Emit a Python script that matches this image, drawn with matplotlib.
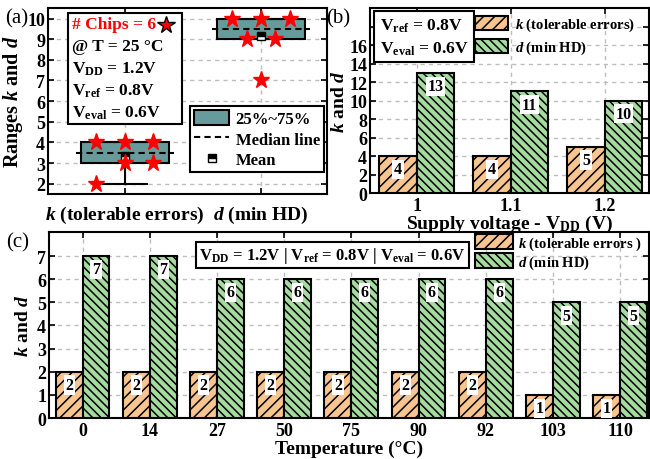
import numpy as np
import matplotlib
matplotlib.use("Agg")
import matplotlib.pyplot as plt
from matplotlib.patches import Patch, Rectangle
from matplotlib.lines import Line2D

plt.rcParams['font.family'] = ['Liberation Serif', 'DejaVu Serif']
plt.rcParams['font.weight'] = 'bold'
plt.rcParams['axes.labelweight'] = 'bold'
plt.rcParams['mathtext.fontset'] = 'custom'
plt.rcParams['mathtext.rm'] = 'Liberation Serif:bold'
plt.rcParams['mathtext.it'] = 'Liberation Serif:italic:bold'
plt.rcParams['mathtext.bf'] = 'Liberation Serif:bold'
plt.rcParams['hatch.linewidth'] = 1.1
plt.rcParams['axes.linewidth'] = 1.5

# (a) six chips at 25 C
k_chips = [4, 4, 4, 3, 3, 2]
d_chips = [10, 10, 10, 9, 9, 7]
# horizontal spread of the stars (layout only)
k_jit = [-0.21, 0, 0.21, 0, 0.21, -0.21]
d_jit = [-0.21, 0, 0.21, -0.105, 0.105, 0]

# (b) supply voltage sweep
vdd_labels = ['1', '1.1', '1.2']
k_vdd = [4, 4, 5]
d_vdd = [13, 11, 10]

# (c) temperature sweep
temp_labels = ['0', '14', '27', '50', '75', '90', '92', '103', '110']
k_temp = [2, 2, 2, 2, 2, 2, 2, 1, 1]
d_temp = [7, 7, 6, 6, 6, 6, 6, 5, 5]

orange = '#f8c490'
green = '#a6dba0'
teal = '#679b9b'
gridkw = dict(color='#bdbdbd', ls=(0, (3, 3)), lw=1.0)

fig = plt.figure(figsize=(6.5, 4.6), dpi=100)
axa = fig.add_axes([0.0738, 0.576, 0.4292, 0.404])
axb = fig.add_axes([0.569, 0.578, 0.4295, 0.402])
axc = fig.add_axes([0.0754, 0.089, 0.9231, 0.4045])

for ax in (axa, axb, axc):
    ax.tick_params(direction='in', length=4, width=1.2, labelsize=13,
                   right=True, top=True, pad=2)
    ax.set_axisbelow(True)


def tag(ax, s):
    ax.text(-0.155 if ax is not axc else -0.072, 1.0, s, transform=ax.transAxes,
            fontsize=15, fontweight='normal', va='top', ha='left')


# ---------- (a) ----------
ax = axa
pos = [1, 2]
bp = ax.boxplot([k_chips, d_chips], positions=pos, widths=0.65, patch_artist=True,
                showfliers=False, whis=1.5, capwidths=0.32,
                boxprops=dict(facecolor=teal, edgecolor='black', lw=1.5),
                whiskerprops=dict(color='black', lw=1.5),
                capprops=dict(color='black', lw=1.5),
                medianprops=dict(visible=False), zorder=2)
for p, data, jit in zip(pos, [k_chips, d_chips], [k_jit, d_jit]):
    ax.hlines(np.median(data), p - 0.36, p + 0.36, colors='black',
              linestyles=(0, (3, 2)), lw=1.5, zorder=4)
    ax.plot(p, np.mean(data), marker='s', ms=6, mfc='black', mec='black',
            fillstyle='top', markerfacecoloralt='white', zorder=5)
    ax.plot(np.array(jit) + p, data, ls='none', marker='*', ms=12.5,
            color='red', zorder=6)
ax.set_xlim(0.435, 2.485)
ax.set_ylim(1.5, 10.5)
ax.set_yticks(range(2, 11))
ax.set_xticks(pos)
ax.set_xticklabels([r'$\mathit{k}$ (tolerable errors)', r'$\mathit{d}$ (min HD)'],
                   fontsize=14)
ax.tick_params(axis='x', pad=7)
ax.set_ylabel(r'Ranges $\mathit{k}$ and $\mathit{d}$', fontsize=14.5, labelpad=2)
ax.grid(True, **gridkw)

ax.add_patch(Rectangle((0.072, 0.376), 0.408, 0.597, transform=ax.transAxes,
                       fc='white', ec='black', lw=1.5, zorder=7))
lines = ['# Chips = 6', '@ T = 25 \u00b0C', r'V$_{\mathrm{DD}}$ = 1.2V',
         r'V$_{\mathrm{ref}}$ = 0.8V', r'V$_{\mathrm{eval}}$ = 0.6V']
ys = [0.914, 0.796, 0.677, 0.559, 0.441]
for s, y in zip(lines, ys):
    ax.text(0.086, y, s, transform=ax.transAxes, fontsize=12.5, va='center',
            color='red' if s.startswith('#') else 'black', zorder=8)
ax.plot(0.423, 0.909, marker='*', ms=13, mfc='red', mec='black', mew=1,
        transform=ax.transAxes, zorder=8)

handles = [Patch(facecolor=teal, edgecolor='black', lw=1.5),
           Line2D([], [], color='black', ls=(0, (3, 2)), lw=1.5),
           Line2D([], [], ls='none', marker='s', ms=6, mfc='black', mec='black',
                  fillstyle='top', markerfacecoloralt='white')]
leg = ax.legend(handles, ['25%~75%', 'Median line', 'Mean'], loc='upper right',
                bbox_to_anchor=(0.99, 0.475), fontsize=12, frameon=True,
                fancybox=False, edgecolor='black', framealpha=1,
                handlelength=2.1, handleheight=1.0, borderpad=0.25,
                labelspacing=0.2, handletextpad=0.4, borderaxespad=0)
leg.get_frame().set_linewidth(1.5)
tag(ax, '(a)')


# ---------- bar panels ----------
def bars(ax, k, d):
    x = np.arange(len(k))
    bk = ax.bar(x, k, -0.4, align='edge', color=orange, edgecolor='black',
                lw=1.5, hatch='///', zorder=3)
    bd = ax.bar(x, d, 0.4, align='edge', color=green, edgecolor='black',
                lw=1.5, hatch='\\\\\\\\', zorder=3)
    for group, vals in ((bk, k), (bd, d)):
        for b, v in zip(group, vals):
            ax.annotate(str(v), (b.get_x() + b.get_width() / 2, v),
                        xytext=(0, -9.5), textcoords='offset points',
                        ha='center', va='center', fontsize=11.5, zorder=4,
                        bbox=dict(boxstyle='square,pad=0.1', fc='white', ec='none'))
    ax.set_xticks(x)
    ax.tick_params(axis='x', pad=3)
    ax.grid(True, **gridkw)
    return bk, bd


# (b)
ax = axb
bk, bd = bars(ax, k_vdd, d_vdd)
ax.set_xticklabels(vdd_labels)
ax.set_xlim(-0.5, 2.47)
ax.set_ylim(0, 20)
ax.set_yticks(range(0, 20, 2))
ax.set_yticklabels([str(v) if v <= 16 else '' for v in range(0, 20, 2)])
ax.set_xlabel(r'Supply voltage - V$_{\mathrm{DD}}$ (V)', fontsize=14, labelpad=-1)
ax.set_ylabel(r'$\mathit{k}$ and $\mathit{d}$', fontsize=14, labelpad=1)
ax.text(0.035, 0.955, 'V$_{\\mathrm{ref}}$ = 0.8V\nV$_{\\mathrm{eval}}$ = 0.6V',
        transform=ax.transAxes, fontsize=12.5, va='top', ha='left',
        linespacing=1.45, zorder=6,
        bbox=dict(boxstyle='square,pad=0.3', fc='white', ec='black', lw=1.5))
ax.legend([bk, bd], [r'$\mathit{k}$ (tolerable errors)', r'$\mathit{d}$ (min HD)'],
          loc='upper left', bbox_to_anchor=(0.37, 0.965),
          fontsize=10.5, frameon=False, handlelength=2.3, handleheight=1.1,
          labelspacing=0.35, handletextpad=0.5, borderaxespad=0, borderpad=0.1)
tag(ax, '(b)')

# (c)
ax = axc
bk, bd = bars(ax, k_temp, d_temp)
ax.set_xticklabels(temp_labels)
ax.set_xlim(-0.5, 8.43)
ax.set_ylim(0, 8.04)
ax.set_yticks(range(0, 8))
ax.set_xlabel('Temperature (\u00b0C)', fontsize=14, labelpad=0)
ax.set_ylabel(r'$\mathit{k}$ and $\mathit{d}$', fontsize=14, labelpad=4)
ax.text(0.4725, 0.876,
        r'V$_{\mathrm{DD}}$ = 1.2V | V$_{\mathrm{ref}}$ = 0.8V | V$_{\mathrm{eval}}$ = 0.6V',
        transform=ax.transAxes, fontsize=12, va='center', ha='center', zorder=6,
        bbox=dict(boxstyle='square,pad=0.2', fc='white', ec='black', lw=1.5))
ax.legend([bk, bd], [r'$\mathit{k}$ (tolerable errors )', r'$\mathit{d}$ (min HD)'],
          loc='upper left', bbox_to_anchor=(0.708, 0.995), fontsize=10.5,
          frameon=False, handlelength=2.6, handleheight=1.15, labelspacing=0.1,
          handletextpad=0.3, borderaxespad=0, borderpad=0.1)
tag(ax, '(c)')

fig.savefig('out.png', dpi=100)
